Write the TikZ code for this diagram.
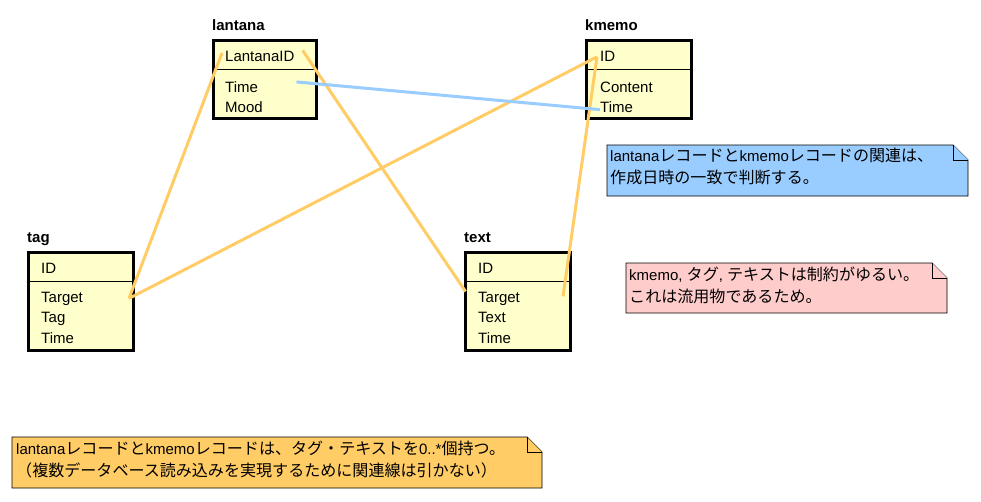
\documentclass[tikz,border=0pt]{standalone}
\usepackage{fontspec}
\setmainfont{Liberation Sans}
\newfontfamily\jp[Scale=1.07]{Noto Sans CJK JP}
\usetikzlibrary{positioning, calc}
\definecolor{tblfill}{HTML}{FFFFCC}
\definecolor{linkorange}{HTML}{FFCC66}
\definecolor{linkblue}{HTML}{99CCFF}
\definecolor{noteblue}{HTML}{99CCFF}
\definecolor{notepink}{HTML}{FFCCCC}
\definecolor{noteorange}{HTML}{FFCC66}

\begin{document}
\begin{tikzpicture}[x=1pt, y=-1pt,
  table/.style={draw=black, line width=3pt, fill=tblfill, anchor=north west,
    minimum width=103pt, minimum height=#1, inner sep=0pt, outer sep=0pt},
  table/.default=78pt,
  title/.style={font=\fontsize{15}{18}\selectfont\bfseries, anchor=base west, inner sep=0pt},
  field/.style={font=\fontsize{15}{18}\selectfont, anchor=base west, inner sep=0pt},
  divider/.style={draw=black, line width=0.8pt},
  link/.style={draw=linkorange, line width=3pt},
  samedate/.style={draw=linkblue, line width=3pt},
  note/.style={draw=black, line width=0.8pt, fill=#1},
  notetext/.style={font=\fontsize{15}{22}\selectfont, anchor=north west, align=left, inner sep=0pt},
]

\useasboundingbox (0,0) rectangle (981,501);
\fill[white] (0,0) rectangle (981,501);

% Tables
\node[table] (lantana) at (213.5,40.5) {};
\node[title] (lantanatitle) at (212,30) {lantana};
\draw[divider] (lantana.west |- 0,69.5) -- (lantana.east |- 0,69.5);
\node[field] (lanid) at (225,61) {LantanaID};
\node[field] (lantime) at (225,92) {Time};
\node[field] (lanmood) at (225,112) {Mood};

\node[table, minimum width=105pt] (kmemo) at (586.5,40.5) {};
\node[title] (kmemotitle) at (585,30) {kmemo};
\draw[divider] (kmemo.west |- 0,69.5) -- (kmemo.east |- 0,69.5);
\node[field] (kmid) at (600,61) {ID};
\node[field] (kmcontent) at (600,92) {Content};
\node[field] (kmtime) at (600,112) {Time};

\node[table=98pt, minimum width=104.5pt] (tag) at (28.5,252.5) {};
\node[title] (tagtitle) at (27,242) {tag};
\draw[divider] (tag.west |- 0,281.5) -- (tag.east |- 0,281.5);
\node[field] (tagid) at (41,273) {ID};
\node[field] (tagtgt) at (41,302) {Target};
\node[field] (tagtag) at (41,322) {Tag};
\node[field] (tagtime) at (41,343) {Time};

\node[table=98pt, minimum width=104.5pt] (text) at (465.5,252.5) {};
\node[title] (texttitle) at (464,242) {text};
\draw[divider] (text.west |- 0,281.5) -- (text.east |- 0,281.5);
\node[field] (textid) at (478,273) {ID};
\node[field] (texttgt) at (478,302) {Target};
\node[field] (texttext) at (478,322) {Text};
\node[field] (texttime) at (478,343) {Time};

% Links
\draw[link] ($(lanid.west)+(-3,-3)$) -- ($(tag.east |- tagtgt)+(-4,0)$);
\draw[link] ($(lanid.north east)+(8,0)$) -- (text.west |- texttgt.north);
\draw[link] ($(tag.east |- tagtgt)+(-4,0)$) -- ($(kmid.west)+(-3,1)$);
\draw[link] ($(text.east |- texttgt)+(-7,-2)$) -- ($(kmid.west)+(-3,1)$);
\draw[samedate] ($(lantana.east |- lantime.north)+(-20,1)$) -- ($(kmtime.west)+(0,3)$);

% Notes
\draw[note=noteblue] (607,145) -- (953,145) -- (968,160) -- (968,196) -- (607,196) -- cycle;
\draw[note=noteblue] (953,145) -- (953,160) -- (968,160);
\node[notetext] (bluenote) at (610,148)
  {lantana{\jp レコードと}kmemo{\jp レコードの関連は、}\\{\jp 作成日時の一致で判断する。}};

\draw[note=notepink] (626,263) -- (932,263) -- (947,278) -- (947,313) -- (626,313) -- cycle;
\draw[note=notepink] (932,263) -- (932,278) -- (947,278);
\node[notetext] (pinknote) at (629,267)
  {kmemo, {\jp タグ}, {\jp テキストは制約がゆるい。}\\{\jp これは流用物であるため。}};

\draw[note=noteorange] (12,437) -- (527,437) -- (542,452) -- (542,488) -- (12,488) -- cycle;
\draw[note=noteorange] (527,437) -- (527,452) -- (542,452);
\node[notetext] (orangenote) at (16,441)
  {lantana{\jp レコードと}kmemo{\jp レコードは、タグ・テキストを}0..*{\jp 個持つ。}\\{\jp （複数データベース読み込みを実現するために関連線は引かない）}};

\end{tikzpicture}
\end{document}
